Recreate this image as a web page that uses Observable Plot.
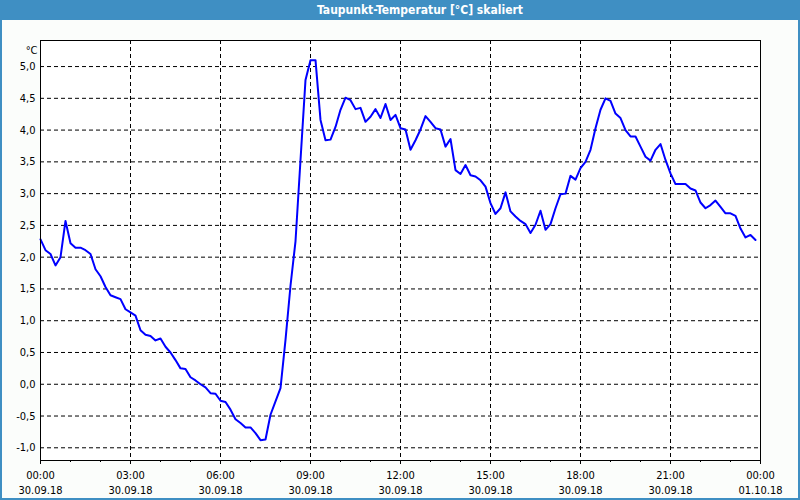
<!DOCTYPE html>
<html>
<head>
<meta charset="utf-8">
<script src="https://cdn.jsdelivr.net/npm/d3@7"></script>
<script src="https://cdn.jsdelivr.net/npm/@observablehq/plot@0.6"></script>
<style>
  body { margin: 0; background: #ffffff; }
  #wrap { position: relative; width: 800px; height: 500px; background: #fbfdfb; overflow: hidden;
          font-family: "DejaVu Sans Condensed", "DejaVu Sans", sans-serif; }
  #title { position: absolute; left: 0; top: 0; width: 800px; height: 20px; background: #3f8fc3;
           color: #ffffff; font-weight: bold; font-size: 12px; line-height: 20px; text-align: center; }
  #title span { position: relative; left: 20px; }
  #chart { position: absolute; left: 0; top: 20px; }
  #border { position: absolute; left: 0; top: 0; width: 800px; height: 500px; box-sizing: border-box;
            border: 2px solid #3f8fc3; border-top: none; pointer-events: none; }
</style>
</head>
<body>
<div id="wrap">
  <div id="title"><span>Taupunkt-Temperatur [°C] skaliert</span></div>
  <div id="chart"></div>
  <div id="border"></div>
</div>
<script>
// ---- data ----
const startTime = "2018-09-30T00:00:00Z";
const stepMinutes = 10;
const dewPoint = [
  2.28, 2.11, 2.05, 1.87, 2.00, 2.57, 2.22, 2.15, 2.15, 2.11,
  2.05, 1.81, 1.70, 1.53, 1.40, 1.37, 1.34, 1.18, 1.13, 1.08,
  0.85, 0.78, 0.76, 0.69, 0.72, 0.59, 0.50, 0.38, 0.25, 0.24,
  0.11, 0.06, 0.00, -0.05, -0.14, -0.15, -0.26, -0.28, -0.40, -0.55,
  -0.61, -0.68, -0.68, -0.77, -0.88, -0.87, -0.48, -0.27, -0.06, 0.70,
  1.55, 2.25, 3.53, 4.79, 5.10, 5.10, 4.16, 3.84, 3.85, 4.05,
  4.32, 4.51, 4.47, 4.33, 4.35, 4.13, 4.21, 4.33, 4.19, 4.41,
  4.16, 4.24, 4.03, 4.01, 3.69, 3.84, 4.01, 4.22, 4.13, 4.03,
  4.01, 3.74, 3.86, 3.37, 3.31, 3.45, 3.29, 3.27, 3.21, 3.11,
  2.85, 2.68, 2.77, 3.02, 2.72, 2.64, 2.57, 2.52, 2.38, 2.51,
  2.73, 2.43, 2.52, 2.77, 2.99, 3.00, 3.28, 3.22, 3.40, 3.50,
  3.69, 4.03, 4.32, 4.50, 4.46, 4.26, 4.19, 4.00, 3.90, 3.90,
  3.74, 3.58, 3.52, 3.69, 3.78, 3.53, 3.32, 3.15, 3.15, 3.15,
  3.08, 3.05, 2.86, 2.77, 2.82, 2.89, 2.79, 2.69, 2.69, 2.65,
  2.45, 2.31, 2.35, 2.27
];
const yTicks = [-1.0, -0.5, 0.0, 0.5, 1.0, 1.5, 2.0, 2.5, 3.0, 3.5, 4.0, 4.5, 5.0];
const yTickLabels = ["-1,0", "-0,5", "0,0", "0,5", "1,0", "1,5", "2,0", "2,5", "3,0", "3,5", "4,0", "4,5", "5,0"];
const xTickTimes = ["2018-09-30T00:00Z", "2018-09-30T03:00Z", "2018-09-30T06:00Z", "2018-09-30T09:00Z",
  "2018-09-30T12:00Z", "2018-09-30T15:00Z", "2018-09-30T18:00Z", "2018-09-30T21:00Z", "2018-10-01T00:00Z"];
const xTimeLabels = ["00:00", "03:00", "06:00", "09:00", "12:00", "15:00", "18:00", "21:00", "00:00"];
const xDateLabels = ["30.09.18", "30.09.18", "30.09.18", "30.09.18", "30.09.18", "30.09.18", "30.09.18", "30.09.18", "01.10.18"];
const unitLabel = "°C";

// ---- build ----
const t0 = new Date(startTime);
const rows = dewPoint.map((v, i) => ({ time: new Date(+t0 + i * stepMinutes * 60000), value: v }));
const xTicks = xTickTimes.map(s => new Date(s));
const xDomain = [xTicks[0], xTicks[xTicks.length - 1]];
const innerXTicks = xTicks.slice(1, -1);
const hourTicks = d3.utcHours(xDomain[0], +xDomain[1] + 1);
const idxOf = d => xTicks.findIndex(t => +t === +d);

const chart = Plot.plot({
  width: 800,
  height: 480,
  marginLeft: 40,
  marginRight: 40,
  marginTop: 20,
  marginBottom: 40,
  style: { background: "transparent", fontFamily: "'DejaVu Sans Condensed', 'DejaVu Sans', sans-serif", fontSize: "11px", color: "black" },
  x: { type: "utc", domain: xDomain },
  y: { domain: [-1.2, 5.41] },
  marks: [
    Plot.frame({ fill: "white", stroke: null }),
    Plot.gridY(yTicks, { stroke: "black", strokeOpacity: 1, strokeDasharray: "4,3" }),
    Plot.gridX(innerXTicks, { stroke: "black", strokeOpacity: 1, strokeDasharray: "4,3" }),
    Plot.line(rows, { x: "time", y: "value", stroke: "#0000ff", strokeWidth: 2 }),
    Plot.frame({ stroke: "black" }),
    Plot.axisY(yTicks, { tickSize: 0, tickPadding: 5, tickFormat: d => yTickLabels[yTicks.indexOf(d)], label: null }),
    Plot.text([unitLabel], { frameAnchor: "top-left", dx: -3, dy: 6, textAnchor: "end" }),
    Plot.axisX(hourTicks, { tickSize: 2, tickFormat: () => "", label: null }),
    Plot.axisX(xTicks, { tickSize: 4, tickPadding: 7, tickFormat: d => xTimeLabels[idxOf(d)], label: null }),
    Plot.axisX(xTicks, { tickSize: 0, tickPadding: 26, tickFormat: d => xDateLabels[idxOf(d)], label: null })
  ]
});
document.getElementById("chart").appendChild(chart);
</script>
</body>
</html>
